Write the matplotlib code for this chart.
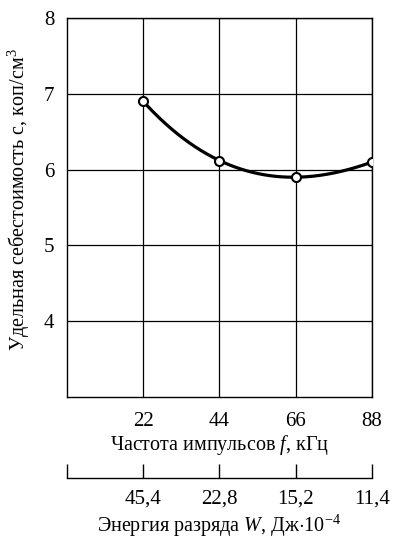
"""
Specific cost vs pulse frequency (with discharge energy scale below).
"""

import matplotlib

matplotlib.use("Agg")
import matplotlib.pyplot as plt
import numpy as np


# data
freq_khz = [22, 44, 66, 88]
cost = [6.9, 6.12, 5.9, 6.1]

freq_ticks = [22, 44, 66, 88]
energy_ticks = [0, 22, 44, 66, 88]
energy_labels = ["", "45,4", "22,8", "15,2", "11,4"]
y_ticks = [4, 5, 6, 7, 8]

plt.rcParams["font.family"] = ["Liberation Serif", "DejaVu Serif"]
plt.rcParams["mathtext.fontset"] = "custom"
plt.rcParams["mathtext.rm"] = "Liberation Serif"
plt.rcParams["mathtext.it"] = "Liberation Serif:italic"

FS = 15
LFS = 14.5

fig = plt.figure(figsize=(3.93, 5.38), dpi=100)
ax = fig.add_axes([0.1705, 0.262, 0.776, 0.7045])

# smooth curve through the measured points
coef = np.polyfit(freq_khz, cost, 3)
xs = np.linspace(freq_khz[0], freq_khz[-1], 200)
ax.plot(xs, np.polyval(coef, xs), color="black", lw=2.3, zorder=3)
ax.plot(freq_khz, cost, "o", ms=6.5, mfc="white", mec="black", mew=1.5, zorder=4)

ax.set_xlim(0, 88)
ax.set_ylim(3, 8)
ax.set_xticks(freq_ticks)
ax.set_yticks(y_ticks)
ax.grid(True, color="black", lw=0.9)
ax.tick_params(axis="y", length=0, labelsize=FS, pad=9)
ax.tick_params(axis="x", length=0, labelsize=FS, pad=11)
for sp in ax.spines.values():
    sp.set_linewidth(1.0)

ax.set_xlabel("Частота импульсов $f$, кГц", fontsize=LFS, labelpad=1)
ax.set_ylabel("Удельная себестоимость с, коп/см$^3$", fontsize=LFS)
ax.yaxis.set_label_coords(-0.115, 0.522)

# second scale: discharge energy
ax2 = fig.add_axes([0.1705, 0.1115, 0.776, 0.01])
ax2.set_xlim(0, 88)
for name in ["top", "left", "right"]:
    ax2.spines[name].set_visible(False)
ax2.spines["bottom"].set_linewidth(1.0)
ax2.set_yticks([])
ax2.patch.set_alpha(0)
ax2.set_xticks(energy_ticks)
ax2.set_xticklabels(energy_labels)
ax2.tick_params(axis="x", direction="in", length=10, width=1.0, labelsize=FS, pad=8)
ax2.set_xlabel("Энергия разряда $W$, Дж$\\cdot$10$^{-4}$", fontsize=LFS, labelpad=3.5)

fig.savefig("out.png", dpi=100)
